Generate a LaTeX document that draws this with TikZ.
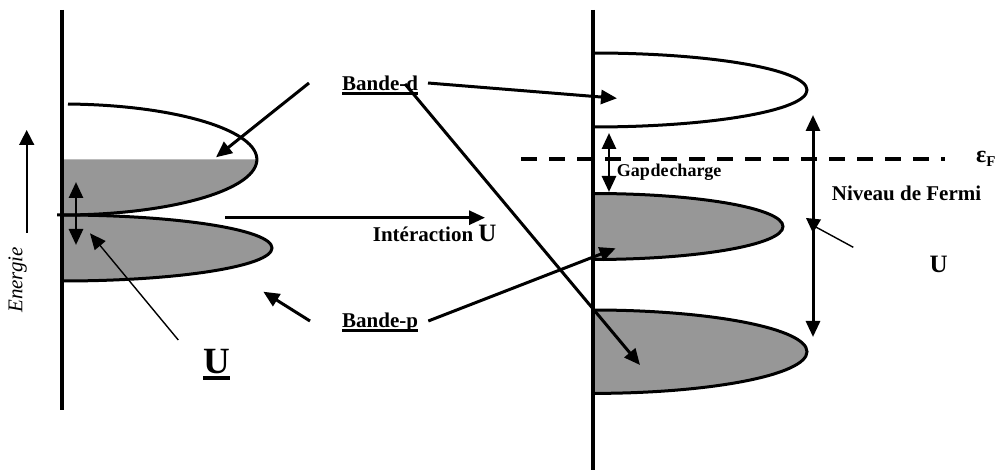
\documentclass[tikz,border=0pt]{standalone}
\usepackage{fontspec}
\setmainfont{Liberation Serif}
\usetikzlibrary{arrows.meta}
\definecolor{bandfill}{RGB}{151,151,151}
% underline drawn at a fixed depth below the baseline (through descenders)
\newcommand\ulword[3]{\setbox0\hbox{#3}\rlap{\rule[-#1]{\wd0}{#2}}\box0}
\begin{document}
\begin{tikzpicture}[x=1pt,y=-1pt,
  axisline/.style={line width=4pt},
  bandline/.style={line width=3pt},
  bigarrow/.style={line width=3pt,-{Triangle[length=16pt,width=14pt]}},
  dblarrow/.style={line width=2.8pt,{Triangle[length=16pt,width=14pt]}-{Triangle[length=16pt,width=14pt]}},
  thinarrow/.style={line width=1.4pt,-{Triangle[length=16pt,width=14pt]}},
  lbl/.style={inner sep=0pt,anchor=base west,font=\fontsize{21}{21}\selectfont\bfseries},
]
\useasboundingbox (0,0) rectangle (1002,470);

% ---- left side: bands before the interaction ----
\fill[bandfill] (62,159.5) -- (257,159.5)
  arc[start angle=0,end angle=90,x radius=195,y radius=55.5] -- cycle;
\fill[bandfill] (62,215) arc[start angle=-90,end angle=90,x radius=210,y radius=33] -- cycle;
\draw[bandline] (68,104.03) arc[start angle=-88.2,end angle=90,x radius=195,y radius=55.5];
\draw[bandline] (57,215) -- (62,215) arc[start angle=-90,end angle=90,x radius=210,y radius=33];
\draw[axisline] (62,10) -- (62,410);

% ---- right side: split bands ----
\draw[bandline] (593,53) arc[start angle=-90,end angle=90,x radius=214,y radius=37];
\filldraw[bandline,fill=bandfill] (593,193.5) arc[start angle=-90,end angle=90,x radius=190,y radius=33];
\filldraw[bandline,fill=bandfill] (593,310) arc[start angle=-90,end angle=90,x radius=214,y radius=41.7];
\draw[axisline] (593,10) -- (593,470);

% Fermi level
\coordinate (fermiA) at (521,159);
\coordinate (fermiB) at (945,159);
\draw[line width=4pt,dash pattern=on 16pt off 12pt] (fermiA) -- (fermiB);

% ---- labels ----
\node[lbl] (bandd) at (342,91) {\ulword{3.7pt}{2.7pt}{Bande-d}};
\node[lbl] (bandp) at (342,327.7) {\ulword{3.9pt}{2.7pt}{Bande-p}};
\node[lbl] (inter) at (372.7,241.7) {Intéraction {\fontsize{25}{25}\selectfont U}};
\node[lbl,font=\fontsize{37}{37}\selectfont\bfseries] (uleft) at (203,373.3) {\ulword{6.3pt}{3.3pt}{U}};
\node[lbl] (fermi) at (831.7,200.7) {Niveau de Fermi};
\node[lbl,font=\fontsize{18}{18}\selectfont\bfseries] (gap) at (616.7,177)
  {\spaceskip=0.8pt Gap de charge};
\node[lbl,font=\fontsize{25}{25}\selectfont\bfseries] (uright) at (929.3,273) {U};
\node[lbl,font=\fontsize{24}{24}\selectfont\bfseries] (epsf) at (976,163)
  {ε\raisebox{-3.5pt}{\fontsize{15}{15}\selectfont F}};
\node[inner sep=0pt,anchor=base west,rotate=90,font=\fontsize{21}{21}\selectfont\itshape]
  (energie) at (22.5,313) {Energie};

% ---- coordinates of connector ends ----
\coordinate (eA) at (26.7,233);
\coordinate (eB) at (26.7,130);
\coordinate (dtail) at (309,83);
\coordinate (dleft) at (216,157.3);
\coordinate (dtailr) at (428,83);
\coordinate (dright) at (617,98.3);
\coordinate (dtaild) at (405,84);
\coordinate (plow) at (640,365);
\coordinate (ptail) at (310,321);
\coordinate (pleft) at (263.3,291.7);
\coordinate (ptailr) at (428.3,321);
\coordinate (pright) at (615.7,248.3);
\coordinate (intA) at (225,217.7);
\coordinate (intB) at (485,217.7);
\coordinate (wA) at (76,182);
\coordinate (wB) at (76,245);
\coordinate (gA) at (609,133);
\coordinate (gB) at (609,192);
\coordinate (uA) at (813,115);
\coordinate (uB) at (813,337);
\coordinate (uLtail) at (178.3,340);
\coordinate (uLtip) at (90,233.3);
\coordinate (uRtail) at (853.3,247.3);
\coordinate (uRtip) at (814,226);

% ---- connectors ----
\draw[line width=1.6pt,-{Triangle[length=15pt,width=15pt]}] (eA) -- (eB);
\draw[bigarrow] (dtail) -- (dleft);
\draw[bigarrow] (dtailr) -- (dright);
\draw[bigarrow] (dtaild) -- (plow);
\draw[bigarrow] (ptail) -- (pleft);
\draw[bigarrow] (ptailr) -- (pright);
\draw[bigarrow] (intA) -- (intB);
\draw[dblarrow] (wA) -- (wB);
\draw[dblarrow] (gA) -- (gB);
\draw[dblarrow,line width=3pt] (uA) -- (uB);
\draw[thinarrow] (uLtail) -- (uLtip);
\draw[line width=1.4pt] (uRtail) -- (uRtip);
\fill (806,218) -- (821,219.5) -- (813,233) -- cycle;
\end{tikzpicture}
\end{document}
